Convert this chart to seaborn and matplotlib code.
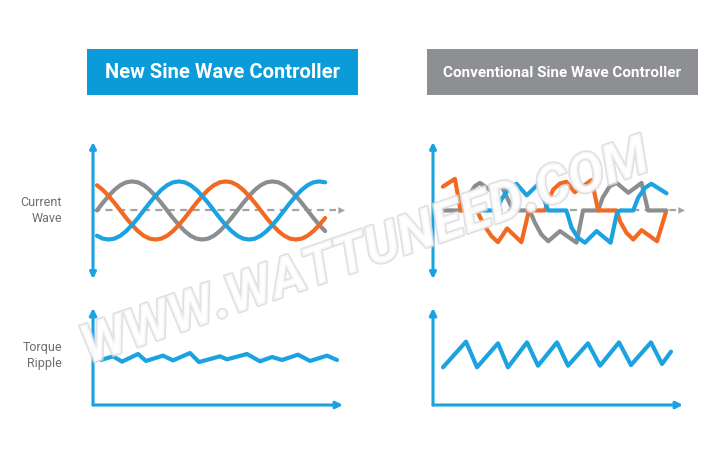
import matplotlib
matplotlib.use('Agg')
import matplotlib.pyplot as plt
import matplotlib.patheffects as pe
from matplotlib.patches import Rectangle
import seaborn as sns
import pandas as pd

# ---- data ----
# new controller: three smooth phases, sampled every 15 electrical degrees
angle_new = list(range(0, 586, 15))
gray_new = [0, .26, .5, .71, .87, .97, 1, .97, .87, .71, .5, .26, 0, -.26, -.5, -.71, -.87, -.97, -1, -.97,
            -.87, -.71, -.5, -.26, 0, .26, .5, .71, .87, .97, 1, .97, .87, .71, .5, .26, 0, -.26, -.5, -.71]
blue_new = [-.87, -.97, -1, -.97, -.87, -.71, -.5, -.26, 0, .26, .5, .71, .87, .97, 1, .97, .87, .71, .5, .26,
            0, -.26, -.5, -.71, -.87, -.97, -1, -.97, -.87, -.71, -.5, -.26, 0, .26, .5, .71, .87, .97, 1, .97]
orange_new = [.87, .71, .5, .26, 0, -.26, -.5, -.71, -.87, -.97, -1, -.97, -.87, -.71, -.5, -.26, 0, .26, .5, .71,
              .87, .97, 1, .97, .87, .71, .5, .26, 0, -.26, -.5, -.71, -.87, -.97, -1, -.97, -.87, -.71, -.5, -.26]

# conventional controller: distorted phases with flat zero steps
conv_orange_x = [0, 32, 47, 91, 98, 111, 129, 146, 170, 208, 228, 270, 279, 292, 310, 327, 349, 394, 411,
                 460, 469, 486, 504, 526, 567, 590]
conv_orange_y = [0.82, 1.09, 0, 0, -0.22, -0.54, -0.89, -1.09, -0.62, -1.09, 0, 0, 0.32, 0.72, 0.93, 0.99, 0.63,
                 1.05, 0, 0, -0.37, -0.77, -1.0, -0.68, -1.06, -0.08]
conv_gray_x = [0, 49, 67, 85, 98, 129, 155, 186, 230, 244, 261, 279, 310, 354, 371, 411, 423, 442, 460, 491,
               526, 543, 592]
conv_gray_y = [0, 0, 0.49, 0.84, 0.95, 0.67, 0.86, 0, 0, -0.43, -0.83, -1.06, -0.71, -1.11, 0, 0, 0.44, 0.84,
               0.95, 0.61, 0.95, 0, 0]
conv_blue_x = [91, 144, 155, 173, 195, 222, 252, 279, 327, 341, 358, 376, 407, 444, 461, 469, 504, 517, 535,
               552, 592]
conv_blue_y = [0, 0, 0.38, 0.72, 0.92, 0.52, 0.9, 0, 0, -0.6, -0.94, -1.11, -0.71, -1.11, -0.08, 0, 0, 0.44,
               0.78, 0.92, 0.59]

# torque ripple
ripple_new_x = [8, 20, 29, 45, 53, 70, 80, 97, 106, 127, 134, 154, 167, 179, 189, 205, 217, 234, 244]
ripple_new_y = [4.64, 5.02, 4.47, 5.26, 4.54, 5.09, 4.6, 5.36, 4.43, 5.02, 4.71, 5.26, 4.5, 4.95, 4.64, 5.19,
                4.54, 5.09, 4.64]
ripple_conv_x = [10, 33, 44, 65, 75, 94, 105, 124, 135, 155, 167, 186, 198, 218, 229, 238]
ripple_conv_y = [3.89, 6.53, 3.89, 6.36, 3.89, 6.46, 4.05, 6.46, 4.05, 6.36, 4.05, 6.46, 4.12, 6.46, 4.23, 5.5]

titles = ['New Sine Wave Controller', 'Conventional Sine Wave Controller']
row_labels = ['Current\nWave', 'Torque\nRipple']

BLUE = '#1ba3e1'
ORANGE = '#f26a22'
GRAY = '#8b8e91'
DASH = '#a3a3a3'
palette = {'gray': GRAY, 'blue': BLUE, 'orange': ORANGE}

sns.set_theme(style='white')
plt.rcParams['font.family'] = ['Roboto', 'DejaVu Sans']

fig = plt.figure(figsize=(7.2, 4.64), dpi=100)
fig.patch.set_facecolor('white')


def wave_axes(rect):
    ax = fig.add_axes(rect)
    ax.axis('off')
    ax.annotate('', xy=(0, 1), xytext=(0, 0), xycoords='axes fraction',
                arrowprops=dict(arrowstyle='<|-|>', color=BLUE, lw=2.2, shrinkA=0, shrinkB=0,
                                mutation_scale=9))
    ax.plot([0, 0.965], [0.5, 0.5], transform=ax.transAxes, ls=(0, (3.2, 2.4)), color=DASH, lw=1.6)
    ax.annotate('', xy=(1, 0.5), xytext=(0.965, 0.5), xycoords='axes fraction',
                arrowprops=dict(arrowstyle='-|>', color=DASH, lw=0, shrinkA=0, shrinkB=0,
                                mutation_scale=12))
    return ax


def ripple_axes(rect):
    ax = fig.add_axes(rect)
    ax.axis('off')
    for tip in [(0, 1), (1, 0)]:
        ax.annotate('', xy=tip, xytext=(0, 0), xycoords='axes fraction',
                    arrowprops=dict(arrowstyle='-|>', color=BLUE, lw=2.2, shrinkA=0, shrinkB=0,
                                    mutation_scale=10))
    return ax


# current wave panels
df_new = pd.concat([
    pd.DataFrame({'angle': angle_new, 'value': gray_new, 'phase': 'gray'}),
    pd.DataFrame({'angle': angle_new, 'value': orange_new, 'phase': 'orange'}),
    pd.DataFrame({'angle': angle_new, 'value': blue_new, 'phase': 'blue'}),
])
df_conv = pd.concat([
    pd.DataFrame({'angle': conv_gray_x, 'value': conv_gray_y, 'phase': 'gray'}),
    pd.DataFrame({'angle': conv_orange_x, 'value': conv_orange_y, 'phase': 'orange'}),
    pd.DataFrame({'angle': conv_blue_x, 'value': conv_blue_y, 'phase': 'blue'}),
])

ax1 = wave_axes([0.1292, 0.3966, 0.35, 0.2953])
sns.lineplot(data=df_new, x='angle', y='value', hue='phase', palette=palette, lw=3,
             estimator=None, sort=False, legend=False, ax=ax1)
ax1.set_xlim(-10, 636)
ax1.set_ylim(-2.36, 2.36)
ax1.axis('off')

ax2 = wave_axes([0.6014, 0.3966, 0.35, 0.2953])
sns.lineplot(data=df_conv, x='angle', y='value', hue='phase', palette=palette, lw=3,
             estimator=None, sort=False, legend=False, ax=ax2)
ax2.set_xlim(-26, 641)
ax2.set_ylim(-2.36, 2.36)
ax2.axis('off')

# torque ripple panels
ax3 = ripple_axes([0.1292, 0.125, 0.3472, 0.209])
sns.lineplot(x=ripple_new_x, y=ripple_new_y, color=BLUE, lw=3, estimator=None, sort=False, ax=ax3)
ax3.set_xlim(0, 250)
ax3.set_ylim(0, 10)
ax3.axis('off')

ax4 = ripple_axes([0.6014, 0.125, 0.3472, 0.209])
sns.lineplot(x=ripple_conv_x, y=ripple_conv_y, color=BLUE, lw=3, estimator=None, sort=False, ax=ax4)
ax4.set_xlim(0, 250)
ax4.set_ylim(0, 10)
ax4.axis('off')

# title boxes
for x0, col, title, fs, fw in [(0.1208, '#0a9bd8', titles[0], 14.5, 'bold'),
                               (0.5931, '#8d8f92', titles[1], 11, 'bold')]:
    fig.patches.append(Rectangle((x0, 0.7931), 0.3764, 0.0991, transform=fig.transFigure,
                                 facecolor=col, edgecolor='none', zorder=0))
    fig.text(x0 + 0.3764 / 2, 0.8427, title, color='white', fontsize=fs, fontweight=fw,
             ha='center', va='center')

# row labels
fig.text(0.0861, 0.5453, row_labels[0], color='#6d6e70', fontsize=9, ha='right', va='center',
         linespacing=1.3)
fig.text(0.0861, 0.2349, row_labels[1], color='#6d6e70', fontsize=9, ha='right', va='center',
         linespacing=1.3)

# watermark
fig.text(0.507, 0.452, 'WWW.WATTUNEED.COM', rotation=19, fontsize=39, fontweight='bold',
         fontstyle='italic', color='white', alpha=0.8, ha='center', va='center', zorder=10,
         path_effects=[pe.withStroke(linewidth=2.5, foreground='#dadada')])

fig.savefig('out.png', dpi=100, facecolor='white')
